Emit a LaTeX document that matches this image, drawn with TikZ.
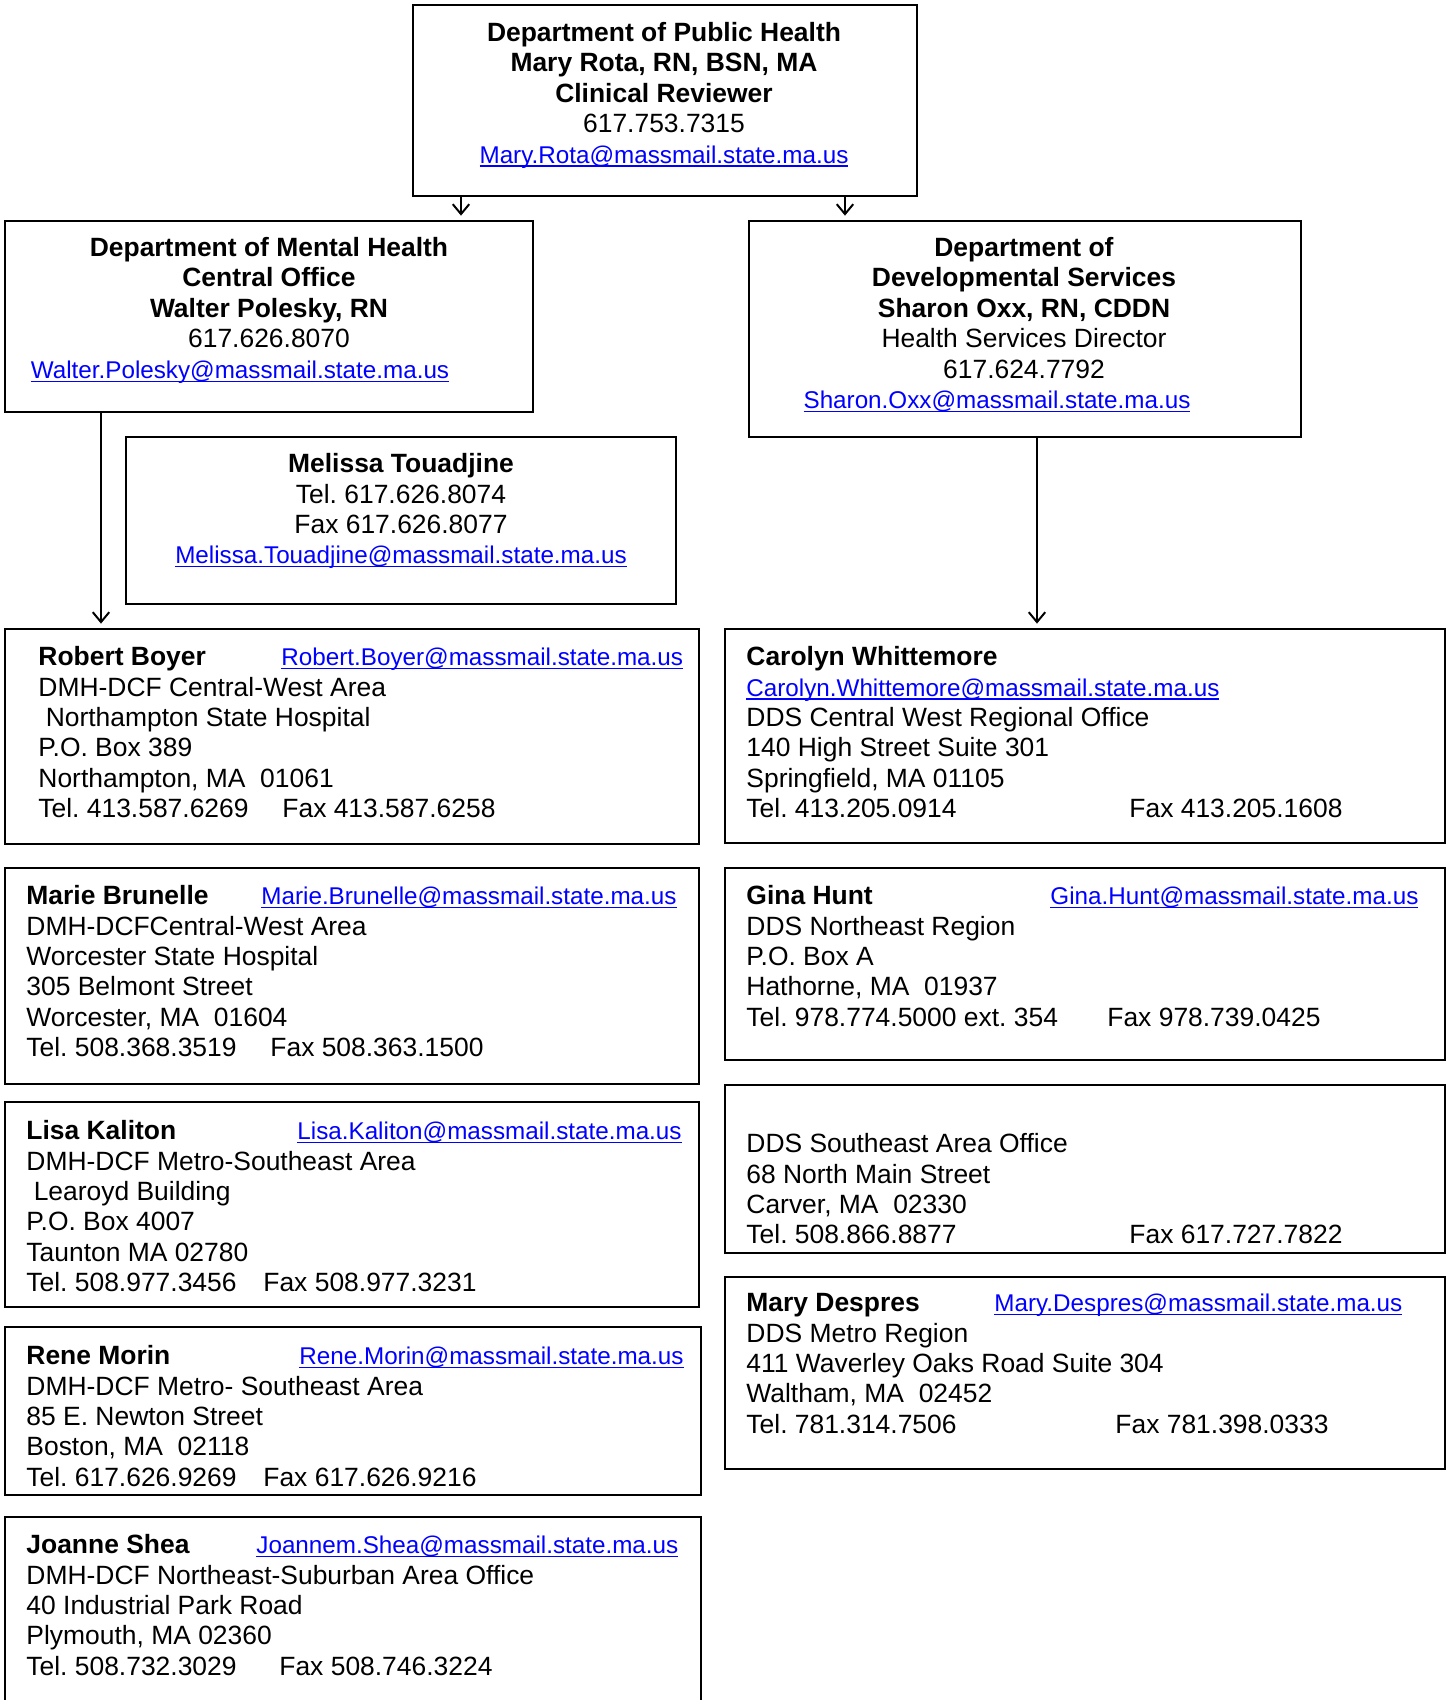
\documentclass[tikz,border=0pt]{standalone}
\usepackage{fontspec}
\setmainfont{Liberation Sans}
\usepackage{xcolor}
\usetikzlibrary{fit,arrows.meta}
\newdimen\pxu
\pxu=0.454pt
\definecolor{mailblue}{RGB}{0,0,255}
\newcommand{\maillink}[1]{{\color{mailblue}\fontsize{11}{13.8}\selectfont\setbox0\hbox{#1}\rlap{\rule[-1.6pt]{\wd0}{0.55pt}}\box0}}
\newcommand{\tabcol}[2]{\makebox[#1\pxu][l]{#2}}
\frenchspacing

\begin{document}
\begin{tikzpicture}[x=0.454pt, y=-0.454pt,
  box/.style={draw, line width=0.9pt, inner sep=0pt},
  head/.style={inner sep=0pt, anchor=north, align=center, font=\fontsize{12}{13.8}\selectfont, execute at begin node=\strut},
  body/.style={inner sep=0pt, anchor=north west, align=left, font=\fontsize{12}{13.8}\selectfont, execute at begin node=\strut},
  link/.style={line width=0.9pt, -{Straight Barb[length=4.5pt,width=7.5pt]}, shorten >=2pt}]
\useasboundingbox (0,0) rectangle (1446,1700);
\clip (0,0) rectangle (1446,1700);

\node[box, fit={(413,5) (917,196)}] (dph) {};
\node[box, fit={(5,221) (533,412)}] (dmh) {};
\node[box, fit={(749,221) (1301,437)}] (dds) {};
\node[box, fit={(126,437) (676,604)}] (touadjine) {};
\node[box, fit={(5,629) (699,844)}] (boyer) {};
\node[box, fit={(725,629) (1445,843)}] (whittemore) {};
\node[box, fit={(5,868) (699,1084)}] (brunelle) {};
\node[box, fit={(725,868) (1445,1060)}] (hunt) {};
\node[box, fit={(5,1102) (699,1307)}] (kaliton) {};
\node[box, fit={(725,1085) (1445,1253)}] (southeast) {};
\node[box, fit={(5,1327) (701,1495)}] (morin) {};
\node[box, fit={(725,1277) (1445,1469)}] (despres) {};
\node[box, fit={(5,1517) (701,1720)}] (shea) {};

\node[head] (dph-t) at (664,22) {\textbf{Department of Public Health}\\ \textbf{Mary Rota, RN, BSN, MA}\\ \textbf{Clinical Reviewer}\\ 617.753.7315\\ \maillink{Mary.Rota@massmail.state.ma.us}};
\node[head] (dmh-t) at (269,237) {\textbf{Department of Mental Health}\\ \textbf{Central Office}\\ \textbf{Walter Polesky, RN}\\ 617.626.8070\\ \maillink{Walter.Polesky@massmail.state.ma.us}\hspace*{58\pxu}};
\node[head] (dds-t) at (1024,237) {\textbf{Department of}\\ \textbf{Developmental Services}\\ \textbf{Sharon Oxx, RN, CDDN}\\ Health Services Director\\ 617.624.7792\\ \maillink{Sharon.Oxx@massmail.state.ma.us}\hspace*{54\pxu}};
\node[head] (touadjine-t) at (401,453) {\textbf{Melissa Touadjine}\\ Tel. 617.626.8074\\ Fax 617.626.8077\\ \maillink{Melissa.Touadjine@massmail.state.ma.us}};

\node[body] (boyer-t) at (38,646) {\tabcol{243}{\textbf{Robert Boyer}}\maillink{Robert.Boyer@massmail.state.ma.us}\\ DMH-DCF Central-West Area\\ \hspace*{.278em}Northampton State Hospital\\ P.O. Box 389\\ Northampton, MA\ \ 01061\\ \tabcol{244}{Tel. 413.587.6269}Fax 413.587.6258};
\node[body] (brunelle-t) at (26,885) {\tabcol{235}{\textbf{Marie Brunelle}}\maillink{Marie.Brunelle@massmail.state.ma.us}\\ DMH-DCFCentral-West Area\\ Worcester State Hospital\\ 305 Belmont Street\\ Worcester, MA\ \ 01604\\ \tabcol{244}{Tel. 508.368.3519}Fax 508.363.1500};
\node[body] (kaliton-t) at (26,1120) {\tabcol{271}{\textbf{Lisa Kaliton}}\maillink{Lisa.Kaliton@massmail.state.ma.us}\\ DMH-DCF Metro-Southeast Area\\ \hspace*{.278em}Learoyd Building\\ P.O. Box 4007\\ Taunton MA 02780\\ \tabcol{237}{Tel. 508.977.3456}Fax 508.977.3231};
\node[body] (morin-t) at (26,1345) {\tabcol{273}{\textbf{Rene Morin}}\maillink{Rene.Morin@massmail.state.ma.us}\\ DMH-DCF Metro- Southeast Area\\ 85 E. Newton Street\\ Boston, MA\ \ 02118\\ \tabcol{237}{Tel. 617.626.9269}Fax 617.626.9216};
\node[body] (shea-t) at (26,1534) {\tabcol{230}{\textbf{Joanne Shea}}\maillink{Joannem.Shea@massmail.state.ma.us}\\ DMH-DCF Northeast-Suburban Area Office\\ 40 Industrial Park Road\\ Plymouth, MA 02360\\ \tabcol{253}{Tel. 508.732.3029}Fax 508.746.3224};

\node[body] (whittemore-t) at (746,646) {\textbf{Carolyn Whittemore}\\ \maillink{Carolyn.Whittemore@massmail.state.ma.us}\\ DDS Central West Regional Office\\ 140 High Street Suite 301\\ Springfield, MA 01105\\ \tabcol{383}{Tel. 413.205.0914}Fax 413.205.1608};
\node[body] (hunt-t) at (746,885) {\tabcol{304}{\textbf{Gina Hunt}}\maillink{Gina.Hunt@massmail.state.ma.us}\\ DDS Northeast Region\\ P.O. Box A\\ Hathorne, MA\ \ 01937\\ \tabcol{361}{Tel. 978.774.5000 ext. 354}Fax 978.739.0425};
\node[body] (southeast-t) at (746,1133) {DDS Southeast Area Office\\ 68 North Main Street\\ Carver, MA\ \ 02330\\ \tabcol{383}{Tel. 508.866.8877}Fax 617.727.7822};
\node[body] (despres-t) at (746,1293) {\tabcol{248}{\textbf{Mary Despres}}\maillink{Mary.Despres@massmail.state.ma.us}\\ DDS Metro Region\\ 411 Waverley Oaks Road Suite 304\\ Waltham, MA\ \ 02452\\ \tabcol{369}{Tel. 781.314.7506}Fax 781.398.0333};

\coordinate (dmh-x) at (461,0);
\coordinate (dds-x) at (845,0);
\coordinate (boyer-x) at (101,0);
\coordinate (whittemore-x) at (1037,0);
\draw[link] (dph.south -| dmh-x) -- (dmh.north -| dmh-x);
\draw[link] (dph.south -| dds-x) -- (dds.north -| dds-x);
\draw[link] (dmh.south -| boyer-x) -- (boyer.north -| boyer-x);
\draw[link] (dds.south -| whittemore-x) -- (whittemore.north -| whittemore-x);
\end{tikzpicture}
\end{document}
